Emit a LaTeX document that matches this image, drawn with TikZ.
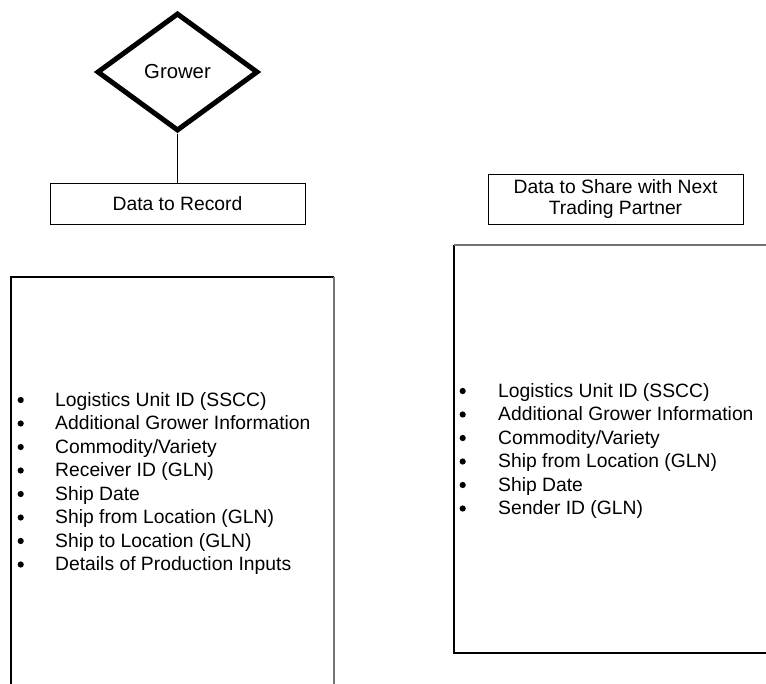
\documentclass[tikz,border=0pt]{standalone}
\usepackage{fontspec}
\setmainfont{Liberation Sans}
\usetikzlibrary{shapes.geometric}
\begin{document}
\begin{tikzpicture}[x=1pt,y=-1pt,
  txt/.style={font=\fontsize{19.3}{23.5}\selectfont},
  hdrbox/.style={draw=black, line width=1pt, minimum width=255pt, inner sep=0pt, align=center, txt},
  item/.style={anchor=base west, inner sep=0pt, txt},
  bul/.style={fill=black},
  bigbox/.style={draw=black, line width=1.2pt},
  edgegray/.style={draw=black!55, line width=2pt},
  link/.style={draw=black, line width=0.9pt}]
\useasboundingbox (0,0) rectangle (766,683);
\clip (0,0) rectangle (766,683);
\fill[white] (0,0) rectangle (766,683);

% Grower diamond
\node[draw=black, diamond, line width=5pt, minimum width=161pt, minimum height=118pt,
      inner sep=0pt, font=\fontsize{20.3}{24}\selectfont] (grower) at (177.5,72) {Grower};

% header boxes
\node[hdrbox, minimum height=41pt] (record) at (177.5,203.5) {Data to Record};
\node[hdrbox, minimum height=50pt, font=\fontsize{19.3}{21}\selectfont] (share) at (615.5,199)
  {Data to Share with Next\\Trading Partner};

\draw[link] (grower.south) -- (record.north);

% big boxes
\draw[bigbox] (334,277) -- (11,277) -- (11,700);
\draw[edgegray] (334,276.5) -- (334,700);
\draw[bigbox] (454,245) -- (454,653) -- (780,653);
\draw[edgegray] (454,245) -- (780,245);

% left list
\foreach \t [count=\i from 0] in {Logistics Unit ID (SSCC),Additional Grower Information,Commodity/Variety,Receiver ID (GLN),Ship Date,Ship from Location (GLN),Ship to Location (GLN),Details of Production Inputs}{
  \node[item] (l\i) at (55,406+23.5*\i) {\t};
  \fill[bul] ([shift={(-34.3,-6)}]l\i.base west) circle (3.1pt);
}

% right list
\foreach \t [count=\i from 0] in {Logistics Unit ID (SSCC),Additional Grower Information,Commodity/Variety,Ship from Location (GLN),Ship Date,Sender ID (GLN)}{
  \node[item] (r\i) at (498,397+23.5*\i) {\t};
  \fill[bul] ([shift={(-35.3,-6)}]r\i.base west) circle (3.1pt);
}
\end{tikzpicture}
\end{document}
